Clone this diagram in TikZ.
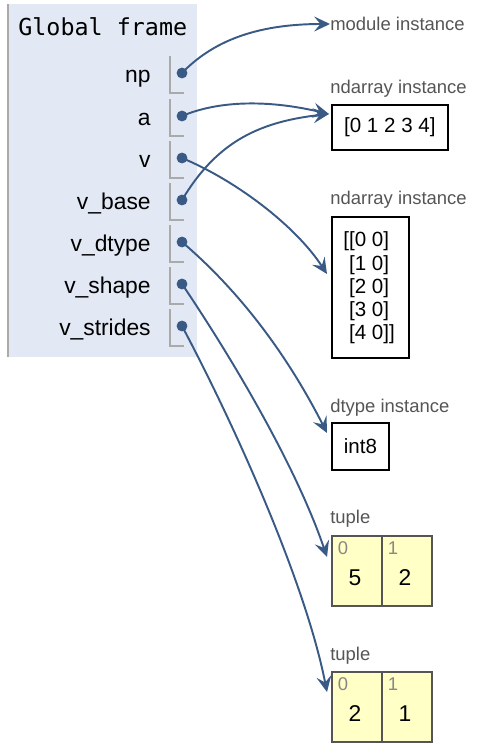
\documentclass[tikz,border=0pt]{standalone}
\usepackage{fontspec}
\setmainfont{Liberation Sans}
\setmonofont{DejaVu Sans Mono}
\usetikzlibrary{arrows.meta}

\definecolor{framebg}{HTML}{E2E9F5}
\definecolor{framegray}{HTML}{AAAAAA}
\definecolor{ptrblue}{HTML}{3A5A86}
\definecolor{tuplebg}{HTML}{FFFFC6}
\definecolor{lblgray}{HTML}{555555}
\definecolor{idxgray}{HTML}{888888}

\tikzset{
  ptr/.style={draw=ptrblue, line width=1.1pt, -{Stealth[length=9pt,width=8.5pt,inset=3.5pt]}},
  dot/.style={circle, fill=ptrblue, inner sep=0pt, minimum size=6.2pt},
  bracket/.style={draw=framegray, line width=1.1pt},
  varname/.style={anchor=base east, inner sep=0pt, font=\fontsize{13}{15}\selectfont},
  objlabel/.style={anchor=west, inner sep=0pt, text=lblgray, font=\fontsize{10.5}{12}\selectfont},
  objbox/.style={draw=black, line width=1pt, anchor=north west, inner sep=0pt},
  objtext/.style={inner sep=0pt, font=\fontsize{11.7}{13.2}\selectfont},
  cell/.style={draw=lblgray, fill=tuplebg, line width=1.1pt, anchor=north west,
    minimum width=1cm, minimum height=1.4cm, inner sep=0pt},
  idx/.style={inner sep=0pt, text=idxgray, font=\fontsize{10.5}{12}\selectfont},
  val/.style={inner sep=0pt, font=\fontsize{13}{15}\selectfont}
}

\begin{document}
\begin{tikzpicture}[x=0.02cm, y=-0.02cm]

    \useasboundingbox (0,0) rectangle (477,748);

    % GLOBAL FRAME
    \fill[framebg] (7,4) rectangle (197,357);
    \draw[framegray, line width=1.6pt] (8,4) -- (8,357);
    \node[anchor=base west, inner sep=0pt, font=\ttfamily\fontsize{13.3}{15}\selectfont] (title) at (18,35) {Global frame};

    % VARIABLES (name, bracket, pointer dot)
    \node[varname] (npname) at (151,82) {np};
    \draw[bracket] (170,56) |- (184,93);
    \node[dot] (np) at (182,73) {};

    \node[varname] (aname) at (151,125) {a};
    \draw[bracket] (170,99) |- (184,136);
    \node[dot] (a) at (182,116) {};

    \node[varname] (vname) at (151,167) {v};
    \draw[bracket] (170,141) |- (184,178);
    \node[dot] (v) at (182,158) {};

    \node[varname] (vbasename) at (151,209) {v\_base};
    \draw[bracket] (170,183) |- (184,220);
    \node[dot] (vbase) at (182,200) {};

    \node[varname] (vdtypename) at (151,251) {v\_dtype};
    \draw[bracket] (170,225) |- (184,262);
    \node[dot] (vdtype) at (182,242) {};

    \node[varname] (vshapename) at (151,293) {v\_shape};
    \draw[bracket] (170,267) |- (184,304);
    \node[dot] (vshape) at (182,284) {};

    \node[varname] (vstridesname) at (151,335) {v\_strides};
    \draw[bracket] (170,309) |- (184,346);
    \node[dot] (vstrides) at (182,326) {};

    % OBJECTS
    \node[objlabel] (modlbl) at (330,24) {module instance};

    \node[objlabel] (arr1lbl) at (330,89) {ndarray instance};
    \node[objbox, minimum width=2.32cm, minimum height=0.9cm] (arr1) at (331,104) {};
    \node[objtext] (arr1txt) at (arr1.center) {[0 1 2 3 4]};

    \node[objlabel] (arr2lbl) at (330,200) {ndarray instance};
    \node[objbox, minimum width=1.54cm, minimum height=2.82cm] (arr2) at (331,216) {};
    \node[objtext, anchor=west, align=left] (arr2txt) at (343,288)
        {[[0 0]\\\phantom{[}[1 0]\\\phantom{[}[2 0]\\\phantom{[}[3 0]\\\phantom{[}[4 0]]};

    \node[objlabel] (dtlbl) at (330,408) {dtype instance};
    \node[objbox, minimum width=1.14cm, minimum height=0.94cm] (dt) at (331,422) {};
    \node[objtext] (dttxt) at (dt.center) {int8};

    % TUPLES
    \node[objlabel] (tupAlbl) at (330,519) {tuple};
    \node[cell] (tupA0) at (331,535) {};
    \node[cell] (tupA1) at (381,535) {};
    \node[idx] at (343,548) {0};
    \node[idx] at (393,548) {1};
    \node[val] at (355,578) {5};
    \node[val] at (405,578) {2};

    \node[objlabel] (tupBlbl) at (330,656) {tuple};
    \node[cell] (tupB0) at (331,671) {};
    \node[cell] (tupB1) at (381,671) {};
    \node[idx] at (343,684) {0};
    \node[idx] at (393,684) {1};
    \node[val] at (355,714) {2};
    \node[val] at (405,714) {1};

    % POINTER ENDS
    \coordinate (arr1in) at (329,114);
    \coordinate (arr2in) at (327,274);
    \coordinate (dtin) at (327,433);
    \coordinate (tupAin) at (327,557);
    \coordinate (tupBin) at (327,692);

    % POINTERS
    \draw[ptr] (np.center) .. controls (212,42) and (255,24) .. (modlbl.west);
    \draw[ptr] (a.center) .. controls (220,100) and (270,100) .. (arr1in);
    \draw[ptr] (vbase.center) .. controls (215,145) and (255,122) .. (arr1in);
    \draw[ptr] (v.center) .. controls (235,180) and (295,225) .. (arr2in);
    \draw[ptr] (vdtype.center) .. controls (250,300) and (295,370) .. (dtin);
    \draw[ptr] (vshape.center) .. controls (232,358) and (296,466) .. (tupAin);
    \draw[ptr] (vstrides.center) .. controls (232,420) and (305,580) .. (tupBin);

\end{tikzpicture}
\end{document}
